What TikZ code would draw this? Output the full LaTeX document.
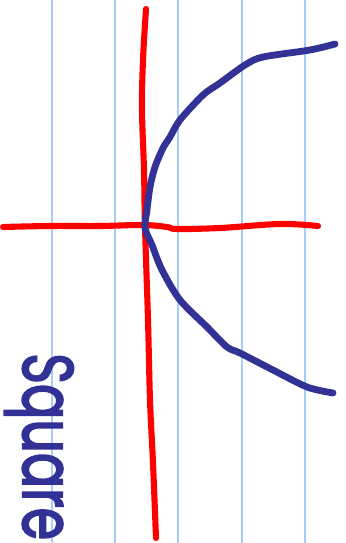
\documentclass[tikz,border=0pt]{standalone}
\usepackage{fontspec}
\usepackage{graphicx}
\usetikzlibrary{positioning}
\definecolor{rulecol}{RGB}{165,205,250}
\definecolor{axiscol}{RGB}{255,0,0}
\definecolor{inkcol}{RGB}{50,50,150}
\newfontfamily\handfont[FakeBold=3]{Poppins}
\tikzset{
  % ruled paper line
  ruleline/.style={rulecol, line width=1.6pt},
  % hand drawn axis
  axisline/.style={axiscol, line width=5.2pt, line cap=round, line join=round},
  % hand drawn curve
  inkline/.style={inkcol, line width=5.8pt, line cap=round, line join=round},
  % handwritten label
  inklabel/.style={inkcol, inner sep=0pt, font=\handfont},
}

\begin{document}
\begin{tikzpicture}[x=0.03cm, y=-0.03cm]
  \useasboundingbox[fill=white] (0,0) rectangle (346,543);

  % paper rules
  \foreach \xr in {52,115,178,242,305}
    \draw[ruleline] (\xr,0) -- (\xr,543);

  % axes
  \draw[axisline] plot[smooth, tension=0.6] coordinates {(146,9) (143,60) (142,110) (144,170) (145,227) (148,320) (150,400) (153,463) (156,538)};
  \draw[axisline] plot[smooth, tension=0.6] coordinates {(3,227) (50,226) (100,226) (143,225) (167,227) (177,229) (220,228) (280,224) (318,226)};

  % sideways parabola
  \draw[inkline] plot[smooth, tension=0.5] coordinates {(335,44) (310,50) (263,57) (245,65) (220,83) (203,95) (180,120) (170,137) (163,148) (155,167) (150,187) (147,210) (145,228) (152,245) (162,270) (180,300) (207,327) (227,347) (240,353) (273,370) (307,387) (333,393)};

  % label
  \node[inklabel, rotate=-90, anchor=base west] (word) at (23,353)
    {\scalebox{0.77}[1.05]{\fontsize{58}{58}\selectfont Square}};
\end{tikzpicture}
\end{document}
